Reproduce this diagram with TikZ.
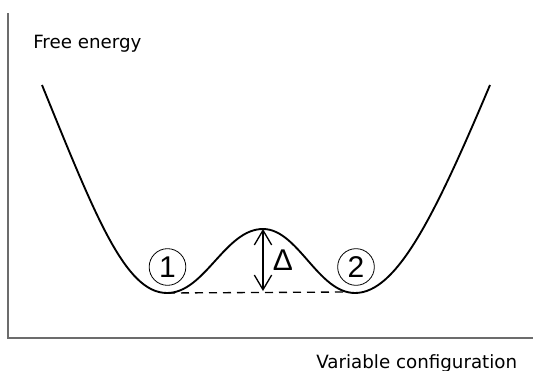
\documentclass[tikz,border=0pt]{standalone}
\usepackage{fontspec}
\setmainfont{DejaVu Sans}
\newfontfamily\arialfont{Liberation Sans}
\usetikzlibrary{positioning, arrows.meta}

\begin{document}
\begin{tikzpicture}[
        x=0.75pt, y=-0.75pt,
        axis_line/.style={draw=gray!85!black, line width=1.2pt},
        axis_text/.style={font=\fontsize{13.7}{15}\selectfont, inner sep=0pt},
        energy_curve/.style={line width=1.4pt},
        well_label/.style={draw, circle, line width=0.6pt, minimum size=27.5pt, inner sep=0pt, font=\arialfont\fontsize{22.5}{22.5}\selectfont},
        gap_text/.style={font=\arialfont\fontsize{22.5}{22.5}\selectfont, inner sep=0pt},
        gap_arrow/.style={{Straight Barb[length=11pt, width=13pt]}-{Straight Barb[length=11pt, width=13pt]}, line width=1pt},
        level_line/.style={dashed, dash pattern=on 6pt off 4.5pt, line width=1pt}
    ]
        \useasboundingbox (0,0) rectangle (533,371);

        % axes
        \coordinate (origin) at (8,338);
        \coordinate (ytop) at (8,13);
        \coordinate (xend) at (533,338);
        \draw[axis_line] (ytop) -- (origin) -- (xend);
        \node[axis_text, anchor=base west] (ylabel) at (33,48) {Free energy};
        \node[axis_text, anchor=base west] (xlabel) at (316,368) {Variable configuration};

        % double well
        \coordinate (left_top) at (42,85);
        \coordinate (min1) at (167,293);
        \coordinate (barrier) at (263,229);
        \coordinate (min2) at (355,293);
        \coordinate (right_top) at (490,85);
        \draw[energy_curve] (left_top) .. controls (95,215) and (125,293) .. (min1)
            .. controls (205,293) and (225,229) .. (barrier)
            .. controls (298,229) and (318,293) .. (min2)
            .. controls (397,293) and (435,215) .. (right_top);

        \coordinate (level_end) at (348,292);
        \coordinate (barrier_foot) at (263,291);
        \draw[level_line] (min1) -- (level_end);
        \draw[gap_arrow] (barrier) -- (barrier_foot);

        \node[well_label] (well1) at (167.5,267) {1};
        \node[well_label] (well2) at (356,267) {2};
        \node[gap_text] (delta) at (283,260) {Δ};

    \end{tikzpicture}
\end{document}
